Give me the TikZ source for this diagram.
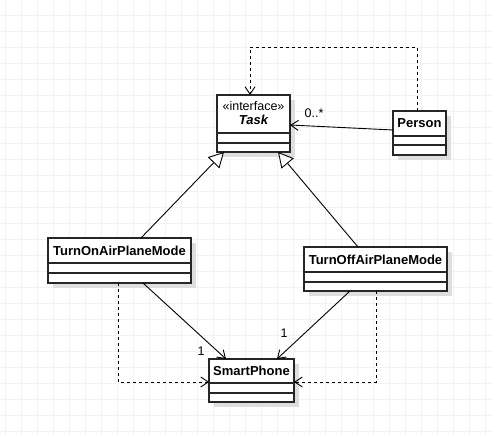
\documentclass[tikz,border=0pt]{standalone}
\usepackage{fontspec}
\setmainfont{Liberation Sans}
\usetikzlibrary{arrows.meta,shadows}
\begin{document}
\begin{tikzpicture}[x=1pt,y=-1pt,
 umlbox/.style={draw=black!85, line width=1.1pt, fill=white, inner sep=0pt, outer sep=0pt,
   general shadow={fill=black!13, shadow xshift=5pt, shadow yshift=-5pt}, anchor=north west},
 divider/.style={draw=black!85, line width=1.1pt},
 gridline/.style={draw=black!5, line width=0.8pt},
 title/.style={font=\fontsize{13}{15}\selectfont\bfseries, inner sep=0pt},
 lbl/.style={font=\fontsize{12.5}{15}\selectfont, inner sep=0pt},
 assoc/.style={line width=0.9pt, -{Straight Barb[length=7.5pt,width=10pt]}},
 gen/.style={line width=0.9pt, -{Triangle[length=15pt,width=16pt,fill=white]}},
 dep/.style={line width=0.9pt, dash pattern=on 3pt off 3pt, -{Straight Barb[length=7.5pt,width=10pt]}},
]
\fill[white] (0,0) rectangle (492,435);
\useasboundingbox (0,0) rectangle (492,435);
\foreach \x in {5,21,...,491} \draw[gridline] (\x,0) -- (\x,435);
\foreach \y in {15,31,...,434} \draw[gridline] (0,\y) -- (492,\y);

% boxes
\node[umlbox, minimum width=73pt, minimum height=57pt] (task) at (217,95) {};
\draw[divider] (217,133) -- (290,133) (217,143) -- (290,143);
\node[lbl] (taskst) at (253.5,106) {«interface»};
\node[title, font=\fontsize{13}{15}\selectfont\bfseries\itshape] (taskt) at (253.5,120) {Task};

\node[umlbox, minimum width=53pt, minimum height=44pt] (person) at (393,111) {};
\draw[divider] (393,136) -- (446,136) (393,145) -- (446,145);
\node[title] (persont) at (419.5,123.5) {Person};

\node[umlbox, minimum width=143pt, minimum height=45pt] (on) at (48,238) {};
\draw[divider] (48,263) -- (191,263) (48,273) -- (191,273);
\node[title] (ont) at (119.5,251) {TurnOnAirPlaneMode};

\node[umlbox, minimum width=143pt, minimum height=44pt] (off) at (304,247) {};
\draw[divider] (304,272) -- (447,272) (304,282) -- (447,282);
\node[title] (offt) at (375.5,260) {TurnOffAirPlaneMode};

\node[umlbox, minimum width=85pt, minimum height=43pt] (phone) at (209,359) {};
\draw[divider] (209,383) -- (294,383) (209,393) -- (294,393);
\node[title] (phonet) at (251.5,371) {SmartPhone};

% connectors
\draw[assoc] ([yshift=3pt]person.west) -- ([yshift=-1.5pt]task.east);
\node[lbl] (mult) at (314,113) {0..*};

\draw[dep] ([xshift=-2.5pt]person.north) |- (250,47) -- ([xshift=-3.5pt]task.north);

\draw[gen] ([xshift=21.5pt]on.north) -- ([xshift=-29.5pt]task.south);
\draw[gen] ([xshift=-17.5pt]off.north) -- ([xshift=24.5pt]task.south);

\draw[assoc] ([xshift=23.5pt]on.south) -- ([xshift=-25.5pt]phone.north);
\node[lbl] (m1) at (201,351) {1};
\draw[assoc] ([xshift=-25.5pt]off.south) -- ([xshift=25.5pt]phone.north);
\node[lbl] (m2) at (284,333) {1};

\draw[dep] ([xshift=-1.5pt]on.south) |- ([yshift=-1.5pt]phone.west);
\draw[dep] ([xshift=0.5pt]off.south) |- ([yshift=-1.5pt]phone.east);
\end{tikzpicture}
\end{document}
